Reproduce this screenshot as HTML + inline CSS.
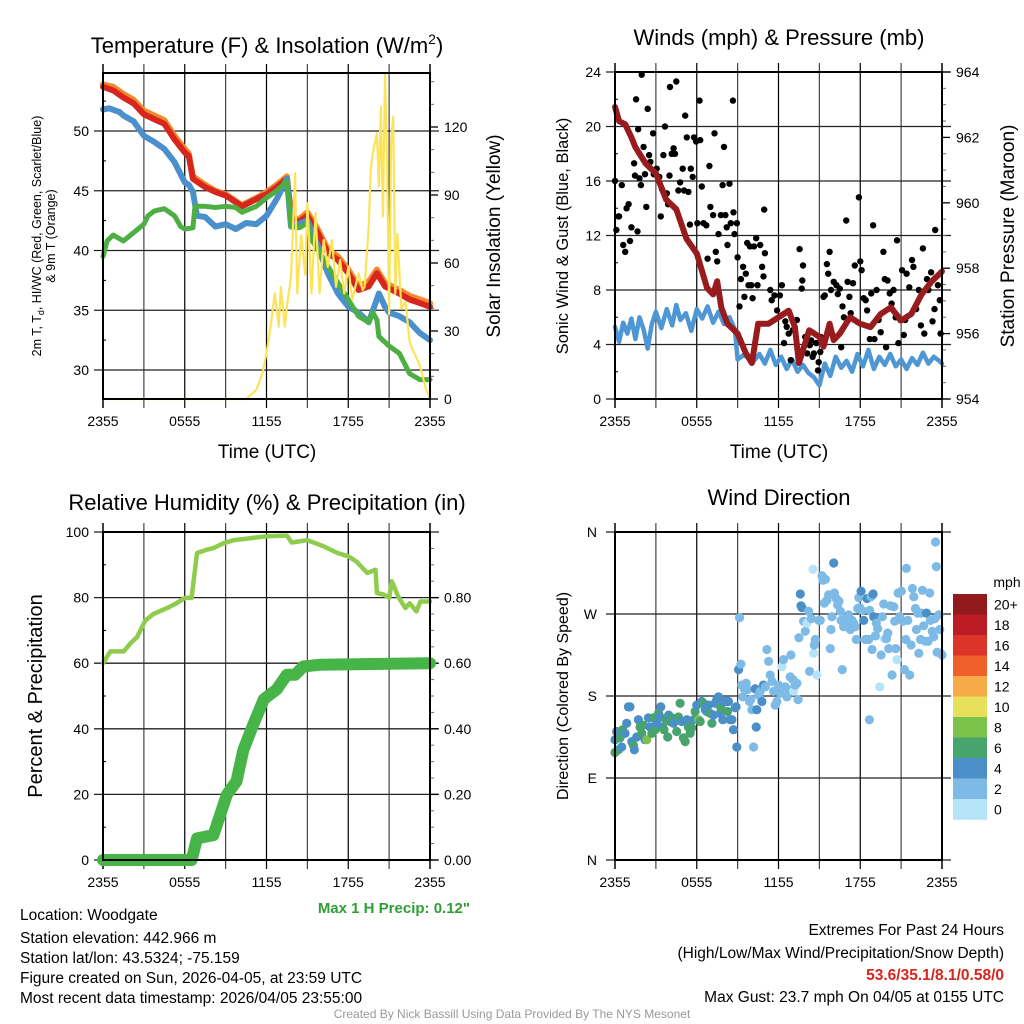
<!DOCTYPE html>
<html><head><meta charset="utf-8"><style>
html,body{margin:0;padding:0;background:#fff;}
svg{display:block;font-family:"Liberation Sans",Arial,sans-serif;}
</style></head><body>
<svg id="fig" width="1024" height="1024" viewBox="0 0 1024 1024" xmlns="http://www.w3.org/2000/svg">
<rect width="1024" height="1024" fill="#fff"/>
<g id="grids"></g>
<g id="marks"></g>
<g id="axes"></g>
<g id="texts" fill="#000">
<text x="267" y="53" font-size="22" text-anchor="middle">Temperature (F) &amp; Insolation (W/m<tspan dy="-9" font-size="14">2</tspan><tspan dy="9">)</tspan></text>
<text x="779" y="45" font-size="22" text-anchor="middle">Winds (mph) &amp; Pressure (mb)</text>
<text x="267" y="510" font-size="22" text-anchor="middle">Relative Humidity (%) &amp; Precipitation (in)</text>
<text x="779" y="505" font-size="22" text-anchor="middle">Wind Direction</text>
<text x="267" y="458" font-size="19" text-anchor="middle">Time (UTC)</text>
<text x="779" y="458" font-size="19" text-anchor="middle">Time (UTC)</text>
<text transform="translate(41,236) rotate(-90)" font-size="12.5" text-anchor="middle">2m T, T<tspan dy="3" font-size="9">d</tspan><tspan dy="-3">, HI/WC (Red, Green, Scarlet/Blue)</tspan></text>
<text transform="translate(55,236) rotate(-90)" font-size="12.5" text-anchor="middle">&amp; 9m T (Orange)</text>
<text transform="translate(500,236) rotate(-90)" font-size="19" text-anchor="middle">Solar Insolation (Yellow)</text>
<text transform="translate(568,236) rotate(-90)" font-size="16.5" text-anchor="middle">Sonic Wind &amp; Gust (Blue, Black)</text>
<text transform="translate(1014,236) rotate(-90)" font-size="19" text-anchor="middle">Station Pressure (Maroon)</text>
<text transform="translate(42,696) rotate(-90)" font-size="20" text-anchor="middle">Percent &amp; Precipitation</text>
<text transform="translate(568,696) rotate(-90)" font-size="16" text-anchor="middle">Direction (Colored By Speed)</text>
<text x="470" y="913" font-size="15" font-weight="bold" fill="#2e9e35" text-anchor="end">Max 1 H Precip: 0.12"</text>
<text x="20" y="920" font-size="15.5">Location: Woodgate</text>
<text x="20" y="943" font-size="15.5">Station elevation: 442.966 m</text>
<text x="20" y="963" font-size="15.5">Station lat/lon: 43.5324; -75.159</text>
<text x="20" y="983" font-size="15.5">Figure created on Sun, 2026-04-05, at 23:59 UTC</text>
<text x="20" y="1003" font-size="15.5">Most recent data timestamp: 2026/04/05 23:55:00</text>
<text x="1004" y="935" font-size="15.5" text-anchor="end">Extremes For Past 24 Hours</text>
<text x="1004" y="958" font-size="15.5" text-anchor="end">(High/Low/Max Wind/Precipitation/Snow Depth)</text>
<text x="1004" y="980" font-size="15.5" font-weight="bold" fill="#d7261e" text-anchor="end">53.6/35.1/8.1/0.58/0</text>
<text x="1004" y="1002" font-size="15.5" text-anchor="end">Max Gust: 23.7 mph On 04/05 at 0155 UTC</text>
<text x="512" y="1018" font-size="12" fill="#999" text-anchor="middle">Created By Nick Bassill Using Data Provided By The NYS Mesonet</text>
<text x="1007" y="587" font-size="14" text-anchor="middle">mph</text>
</g>
</svg>
<script>
// ---------- DATA ----------
const xTickLabels = ["2355","0555","1155","1755","2355"];
// Temperature panel
const tempHours = [0,0.75,1.5,2.25,3,3.75,4.5,5.25,6,6.3,6.6,7.5,8.25,9,10.2,11.25,12,12.75,13.5,13.8,14.25,15,15.75,16.5,17.25,18,18.75,19.5,20.1,20.7,21.75,22.5,23.25,24];
const tempRed = [53.7,53.4,52.8,52.3,51.4,51.0,50.6,49.3,48.2,47.9,46.0,45.3,44.9,44.6,43.7,44.3,44.7,45.3,46.0,42.9,42.3,42.9,41.5,39.8,39.2,38.1,36.7,37.0,38.1,37.0,36.4,35.9,35.6,35.3];
const tempOrange = [53.9,53.7,53.1,52.6,51.7,51.3,50.9,49.6,48.5,48.1,46.2,45.5,45.0,44.7,43.8,44.4,44.9,45.5,46.2,43.1,42.5,43.2,41.8,40.1,39.5,38.4,37.0,37.4,38.4,37.3,36.7,36.2,35.9,35.6];
const hiHours = [0,0.45,1.2,1.5,2.25,3,3.75,4.5,5.25,6,6.3,6.6,6.9,7.5,8.25,9,9.75,10.5,11.25,12,12.75,13.5,13.65,13.8,15,15.75,16.5,17.25,18,18.75,19.5,20.25,20.7,21,21.75,22.5,23.25,24];
const hiVals = [51.8,51.9,51.6,51.3,50.8,49.6,49.1,48.5,47.4,45.7,45.5,44.9,42.9,42.8,42.0,42.2,41.8,42.3,42.2,42.9,44.3,46.0,44.0,42.0,42.5,40.4,38.1,36.4,35.3,34.8,34.0,36.4,35.3,34.8,34.5,34.0,33.1,32.5];
const dewHours = [0,0.3,0.75,1.5,2.25,3,3.3,3.75,4.5,5.25,5.7,6,6.6,6.75,7.5,8.25,9,9.75,10.2,11.25,12,12.75,13.5,13.8,14.4,15,15.3,15.75,16.5,17.25,18,18.75,19.5,19.8,20.1,20.25,21,21.75,22.5,23.25,24];
const dewVals = [39.5,40.8,41.3,40.8,41.5,42.2,42.9,43.3,43.5,42.9,42.0,41.8,41.9,43.7,43.7,43.6,43.7,43.6,43.2,43.7,44.4,45.0,45.8,42.0,41.9,42.3,40.9,40.1,38.7,37.3,35.9,34.5,34.0,34.8,34.2,32.8,32.0,31.4,29.7,29.2,29.2];
const solarHours = [0,10.5,11.25,11.7,12,12.3,12.6,12.9,13.05,13.35,13.5,13.8,14.1,14.25,14.55,14.85,15,15.3,15.6,15.9,16.2,16.5,16.8,17.1,17.4,17.7,18,18.3,18.75,19.05,19.2,19.5,19.65,19.8,20.1,20.25,20.4,20.55,20.7,20.85,21,21.15,21.3,21.45,21.6,21.9,22.2,22.5,22.8,23.25,23.7,24];
const solarVals = [0,0,4.0,11.3,20.2,31.9,46.6,31.9,49.5,31.9,40.7,53.9,99.6,46.6,72.3,54.8,86.4,46.6,82.0,46.6,70.1,58.3,70.1,49.5,61.3,46.6,58.3,43.7,55.4,48.1,49.5,76.0,101.0,108.5,117.3,93.8,129.0,80.5,143.7,105.4,37.4,114.3,124.6,46.6,72.9,39.9,42.8,25.2,20.8,14.9,4.6,0];
const tempTicks = [30,35,40,45,50];
const solarTicks = [0,30,60,90,120];
// Wind panel
const windHours = [0,0.3,0.6,0.9,1.2,1.5,1.8,2.1,2.4,2.7,3,3.4,3.8,4.2,4.5,4.8,5.2,5.6,6,6.4,6.8,7.2,7.6,8,8.4,8.8,9,9.4,9.8,10.2,10.6,11,11.4,11.8,12.2,12.6,13,13.4,13.8,14.2,14.6,15,15.4,15.8,16.2,16.6,17,17.4,17.8,18.2,18.6,19,19.4,19.8,20.2,20.6,21,21.4,21.8,22.2,22.6,23,23.4,23.8,24];
const windVals = [5.3,4.2,5.6,4.8,5.9,4.4,6.0,5.1,3.7,5.5,6.4,5.2,6.6,5.4,6.9,5.8,6.3,5.0,6.6,5.9,6.8,5.6,6.4,5.5,6.0,5.1,2.9,3.2,3.1,2.8,3.3,2.6,3.6,2.5,3.1,2.2,2.9,2.0,2.5,1.9,1.6,1.0,2.6,1.7,3.1,2.3,2.8,2.0,3.3,2.4,3.6,2.2,3.1,2.5,3.3,2.4,2.9,2.2,3.0,2.5,3.4,2.6,3.1,2.8,2.6];
const presHours = [0,0.3,0.75,1.2,1.5,2.25,3,3.75,4.5,5.25,6,6.75,7.2,7.5,7.8,8.25,9,9.6,10.05,10.5,11.25,12,12.75,13.2,13.5,14.25,15,15.3,15.75,16.05,16.5,17.25,18,18.75,19.5,20.25,21,21.75,22.5,23.25,24];
const presVals = [962.93,962.5,962.4,962.0,961.7,961.2,960.9,960.1,959.8,958.9,958.45,957.4,957.2,957.6,956.8,956.3,956.0,955.4,955.1,956.3,956.3,956.5,956.7,956.2,955.1,956.1,955.9,955.6,956.3,955.8,956.0,956.5,956.3,956.2,956.6,956.8,956.4,956.6,957.2,957.6,957.9];
const gustHours = [0,0.1,0.25,0.3,0.5,0.6,0.75,0.85,1.0,1.1,1.2,1.4,1.47,1.55,1.65,1.7,1.8,1.9,1.96,2.1,2.2,2.3,2.4,2.5,2.6,2.8,2.85,3.06,3.25,3.36,3.45,3.55,3.67,3.8,3.9,4.0,4.04,4.16,4.3,4.4,4.5,4.65,4.78,4.97,5.07,5.15,5.27,5.39,5.5,5.56,5.7,5.8,5.95,6.05,6.2,6.25,6.37,6.5,6.7,6.8,6.93,7.0,7.2,7.3,7.4,7.5,7.6,7.77,7.9,8.0,8.1,8.2,8.26,8.4,8.5,8.65,8.7,8.77,8.95,9.0,9.14,9.24,9.4,9.5,9.6,9.7,9.8,9.9,10.0,10.1,10.2,10.36,10.46,10.66,10.8,10.9,10.95,11.0,11.4,11.5,11.7,11.9,12.1,12.25,12.4,12.5,12.6,12.75,12.9,13.06,13.35,13.55,13.7,13.75,13.8,13.96,14.1,14.3,14.4,14.5,14.6,14.77,14.9,14.95,15.07,15.1,15.26,15.3,15.4,15.55,15.65,15.75,15.85,16.05,16.25,16.35,16.5,16.6,16.7,16.8,16.97,17.07,17.2,17.3,17.47,17.6,17.9,18.0,18.1,18.25,18.4,18.5,18.7,18.8,18.94,19.04,19.2,19.35,19.5,19.7,19.8,19.9,20.0,20.16,20.3,20.45,20.6,20.7,20.8,20.95,21.07,21.2,21.3,21.4,21.6,21.8,21.9,22.1,22.3,22.45,22.6,22.7,22.9,23.0,23.2,23.3,23.45,23.5,23.7,23.84,23.9];
const gustVals = [16.0,12.4,13.4,13.4,15.7,11.3,10.8,14.0,14.3,11.6,12.6,17.3,16.4,22.0,12.3,19.8,16.2,15.7,23.8,18.5,16.5,14.1,21.3,17.9,17.4,19.5,16.5,16.9,16.3,13.4,15.4,17.9,20.0,15.1,14.3,16.4,22.9,18.0,18.4,18.0,23.3,15.3,15.9,16.9,15.3,20.8,19.2,15.2,12.8,16.9,16.3,19.2,18.9,12.9,21.9,19.0,15.6,12.9,12.75,10.3,17.1,14.1,13.5,19.5,10.8,10.1,12.1,13.5,15.7,18.5,13.5,12.6,11.3,15.8,12.9,21.9,13.7,12.1,12.9,10.4,6.8,8.8,9.7,7.5,9.2,11.45,8.35,11.2,8.35,7.4,11.2,11.8,8.35,11.3,9.7,9.0,13.9,10.7,8.0,7.25,7.6,6.5,7.6,8.35,4.1,5.7,5.3,4.8,2.85,5.05,5.8,11.0,8.1,8.7,9.8,4.55,3.35,3.95,4.3,3.1,3.35,4.1,2.1,2.7,3.45,4.55,4.3,7.5,7.6,9.9,9.2,10.8,8.0,8.6,8.35,7.7,8.1,3.8,6.8,6.0,13.1,8.6,7.5,6.3,8.5,9.8,14.8,10.1,9.45,7.4,7.25,6.5,4.4,7.75,12.75,4.4,8.0,5.8,4.9,10.8,8.8,3.8,8.7,7.75,7.0,8.0,6.0,11.65,4.1,5.8,9.45,4.7,5.8,9.2,8.2,10.2,9.7,6.6,8.0,5.4,11.05,4.8,8.8,8.0,9.3,5.7,6.6,12.4,8.35,7.25,4.8];
const windTicks = [0,4,8,12,16,20,24];
const presTicks = [954,956,958,960,962,964];
// RH panel
const rhHours = [0,0.54,1.52,2.0,2.5,3.1,3.7,4.7,5.4,6.0,6.5,6.9,7.6,8.1,8.85,9.6,12.0,13.5,13.85,15.0,16.2,17.2,18.0,18.6,19.4,20.0,20.1,20.6,21.0,21.2,21.7,22.2,22.5,23.0,23.3,24];
const rhVals = [60,63.6,63.6,66,68,73,75,76.8,78.3,79.9,79.9,93.6,94.6,95.1,96.6,97.5,98.7,98.9,96.8,97.5,95.6,93.6,92.6,91,87.5,88.5,81.4,80.9,80,85,80,76.8,78.3,75.8,78.8,78.8];
const precipHours = [0,6.5,6.9,8.1,9.1,9.8,10.3,11.0,11.8,12.75,13.5,14.1,14.7,15.9,24];
const precipVals = [0,0,0.066,0.076,0.20,0.24,0.335,0.41,0.49,0.52,0.565,0.565,0.59,0.595,0.60];
const rhTicks = [0,20,40,60,80,100];
const precipTicks = ["0.00","0.20","0.40","0.60","0.80"];
// Direction panel
const dirHours = [0,0,0.12,0.25,0.37,0.49,0.56,0.74,0.86,0.98,1.1,1.23,1.35,1.42,1.59,1.72,1.84,1.96,2.08,2.2,2.33,2.45,2.57,2.7,2.82,2.94,3.06,3.19,3.31,3.36,3.5,3.6,3.75,3.87,3.94,4.04,4.17,4.29,4.41,4.53,4.66,4.78,4.9,5.02,5.15,5.27,5.39,5.51,5.64,5.76,5.88,6.0,6.13,6.25,6.37,6.49,6.62,6.74,6.86,6.98,7.11,7.23,7.35,7.47,7.6,7.72,7.77,7.91,8.01,8.16,8.26,8.33,8.45,8.58,8.7,8.82,8.94,8.89,9.07,9.14,9.24,9.31,9.38,9.48,9.63,9.73,9.87,9.97,10.05,10.17,10.29,10.36,10.41,10.54,10.66,10.78,10.9,11.03,11.15,11.27,11.39,11.52,11.64,11.76,11.88,12.0,12.13,12.25,12.37,12.5,12.62,12.74,12.86,12.91,13.06,13.11,13.23,13.35,13.43,13.5,13.6,13.65,13.72,13.84,13.97,14.09,14.21,14.28,14.41,14.53,14.58,14.63,14.7,14.82,14.95,15.07,15.19,15.26,15.36,15.44,15.56,15.68,15.8,15.85,15.93,16.05,16.1,16.24,16.34,16.44,16.54,16.59,16.68,16.78,16.9,17.03,17.15,17.27,17.4,17.52,17.64,17.71,17.81,17.89,17.96,18.06,18.13,18.25,18.38,18.5,18.62,18.69,18.79,18.87,18.94,18.99,19.11,19.18,19.28,19.43,19.53,19.62,19.72,19.77,19.92,20.02,20.09,20.21,20.34,20.46,20.53,20.6,20.7,20.78,20.9,21.02,21.14,21.24,21.34,21.39,21.49,21.63,21.73,21.83,21.93,22.05,22.12,22.22,22.3,22.42,22.47,22.56,22.66,22.79,22.86,22.98,23.1,23.15,23.28,23.4,23.47,23.52,23.59,23.64,23.77,23.84,23.89,24.0,18.67];
const dirDegs = [118,132,141,121,134,124,143,139,150,168,168,130,126,121,135,154,146,139,148,132,132,156,146,139,156,143,150,161,157,168,146,143,154,135,159,152,156,150,154,141,157,172,152,134,130,154,146,139,145,154,163,170,154,152,174,172,165,163,170,161,150,159,172,176,179,161,167,154,174,174,163,174,154,154,143,167,124,168,209,266,215,192,179,188,194,187,174,176,165,124,188,146,165,181,185,174,192,190,231,218,203,196,185,170,174,192,183,212,220,190,179,187,201,225,198,185,192,194,176,244,292,279,277,262,251,260,273,207,265,319,227,236,242,203,263,263,312,307,282,308,285,291,232,253,267,326,293,287,280,284,273,263,209,256,265,262,269,253,263,260,256,242,276,288,277,295,274,263,242,287,242,274,289,231,292,267,246,260,254,190,225,267,281,243,243,249,232,279,203,278,262,232,220,293,267,295,262,209,242,320,263,203,236,298,289,276,253,271,227,242,271,296,257,240,271,240,293,263,251,245,265,349,322,228,269,253,227,225,154];
const dirSpeeds = [7,5,5,7,7,5,7,5,5,5,5,5,7,5,5,5,7,7,7,5,9,5,5,7,7,7,5,7,5,5,5,7,7,7,5,7,7,5,5,7,7,7,5,7,7,5,7,7,7,5,7,5,9,7,5,7,5,5,5,7,7,5,5,5,5,5,7,5,5,5,7,5,5,5,5,5,5,5,5,3,3,3,3,3,3,3,3,3,3,3,5,5,5,3,3,5,5,3,3,3,3,3,3,3,3,3,3,1,3,3,3,3,3,3,3,1,3,3,3,3,5,5,5,3,3,1,3,3,3,1,1,3,3,1,3,3,3,3,3,3,3,3,3,3,3,5,3,3,3,3,3,3,3,3,3,3,3,3,3,3,3,3,3,3,3,5,3,5,3,5,3,3,3,3,5,5,3,3,3,1,3,3,3,1,3,3,3,3,3,3,3,3,1,3,3,3,3,3,3,3,3,3,3,3,3,3,3,3,3,3,3,3,3,3,5,3,3,3,3,3,3,3,3,3,3,3,3,3,3];
const dirTickLabels = ["N","E","S","W","N"];
const cbLabels = ["0","2","4","6","8","10","12","14","16","18","20+"];
const cbColors = ["#b5e3f8","#7dbbe6","#4a8fc7","#47a46c","#7bc24b","#e7e05b","#f6aa48","#ef602a","#dc3428","#bb1c26","#92191c"];

// ---------- HELPERS ----------
const NS="http://www.w3.org/2000/svg";
function mk(tag, parent, attrs){const e=document.createElementNS(NS,tag);for(const k in attrs)e.setAttribute(k,attrs[k]);parent.appendChild(e);return e;}
const G=document.getElementById('grids'), M=document.getElementById('marks'), A=document.getElementById('axes');
function lin(d0,d1,r0,r1){return v=>r0+(v-d0)*(r1-r0)/(d1-d0);}
function panel(x0,x1,y0,y1){return {x0,x1,y0,y1,sx:lin(0,24,x0,x1)};}
const P1=panel(103,430,73,399), P2=panel(615,942,72,399), P3=panel(103,430,532,860), P4=panel(615,942,532,860);
const y1L=lin(30,50,370,131), y1R=lin(0,120,399,127);
const y2L=lin(0,24,399,72), y2R=lin(954,964,399,72);
const y3L=lin(0,100,860,532), y3R=lin(0,1,860,532);
const y4=lin(0,360,860,532);

function frame(p, name, hTicks, hScale, leftMinor, rightMajor, rightMinor){
  const g=mk('g',G,{});
  
  
  for(let h=0;h<=24;h+=3){const x=p.sx(h);
    const l=mk('line',g,{x1:x,x2:x,y1:p.y0-9,y2:p.y1+9,stroke:(h%6===0?'#000':'#444'),'stroke-width':(h===0||h===24)?1.5:1.2});
    
    }
  hTicks.forEach(v=>{const y=hScale(v);
    const l=mk('line',g,{x1:p.x0-9,x2:p.x1+9,y1:y,y2:y,stroke:'#222','stroke-width':1.3});
    
    });
  leftMinor.forEach(v=>{const y=hScale(v);mk('line',g,{x1:p.x0,x2:p.x0+3,y1:y,y2:y,stroke:'#000','stroke-width':1});});
  rightMajor.forEach(y=>{mk('line',g,{x1:p.x1,x2:p.x1+8,y1:y,y2:y,stroke:'#000','stroke-width':1.3});});
  rightMinor.forEach(y=>{mk('line',g,{x1:p.x1,x2:p.x1+4,y1:y,y2:y,stroke:'#666','stroke-width':1});});
  const r=mk('rect',A,{x:p.x0,y:p.y0,width:p.x1-p.x0,height:p.y1-p.y0,fill:'none',stroke:'#000','stroke-width':2});
  
  
  xTickLabels.forEach((t,i)=>{const tx=mk('text',A,{x:p.sx(i*6),y:p.y1+27,'font-size':14,'text-anchor':'middle'});tx.textContent=t;
    
    });
}
function tickLabel(x,y,t,anchor){const tx=mk('text',A,{x:x,y:y+5,'font-size':14,'text-anchor':anchor});tx.textContent=t;
  
  }
function range(a,b,s){const r=[];for(let v=a;v<=b+1e-9;v+=s)r.push(+v.toFixed(4));return r;}
function path(xs,ys,p,ys2,color,w,name){
  let d='';xs.forEach((h,i)=>{d+=(i?'L':'M')+p.sx(h).toFixed(1)+','+ys2(ys[i]).toFixed(1);});
  const e=mk('path',M,{d:d,fill:'none',stroke:color,'stroke-width':w,'stroke-linejoin':'round','stroke-linecap':'round'});
  
  
  return e;}

// ---------- PANEL 1 ----------
frame(P1,'temp',tempTicks,y1L,range(27.5,52.5,5).filter(v=>v>28),solarTicks.map(y1R),range(10,140,10).filter(v=>v%30).map(y1R));
tempTicks.forEach(v=>tickLabel(P1.x0-14,y1L(v),String(v),'end'));
solarTicks.forEach(v=>tickLabel(P1.x1+14,y1R(v),String(v),'start'));
path(tempHours,tempOrange,P1,y1L,'#f08a2c',6,'temp-9m-line');
path(tempHours,tempRed,P1,y1L,'#d7261e',6,'temp-2m-line');
path(hiHours,hiVals,P1,y1L,'#4a90cc',6,'heat-index-windchill-line');
path(dewHours,dewVals,P1,y1L,'#4daf43',5,'dewpoint-line');
path(solarHours,solarVals,P1,y1R,'#fce45a',2.2,'solar-insolation-line');

// ---------- PANEL 2 ----------
frame(P2,'wind',windTicks,y2L,range(2,22,4),presTicks.map(y2R),range(954.5,963.5,0.5).filter(v=>Math.abs(v%2)>0.01).map(y2R));
windTicks.forEach(v=>tickLabel(P2.x0-14,y2L(v),String(v),'end'));
presTicks.forEach(v=>tickLabel(P2.x1+14,y2R(v),String(v),'start'));
path(windHours,windVals,P2,y2L,'#4f97d4',4.5,'sonic-wind-line');
gustHours.forEach((h,i)=>{const c=mk('circle',M,{cx:P2.sx(h).toFixed(1),cy:y2L(gustVals[i]).toFixed(1),r:3.2,fill:'#000'});
  
  });
path(presHours,presVals,P2,y2R,'#981b1e',6,'pressure-line');

// ---------- PANEL 3 ----------
frame(P3,'rh',rhTicks,y3L,range(10,90,20),[0,0.2,0.4,0.6,0.8].map(y3R),range(0.05,0.95,0.05).filter(v=>Math.abs((v*100)%20)>0.5).map(y3R));
rhTicks.forEach(v=>tickLabel(P3.x0-14,y3L(v),String(v),'end'));
precipTicks.forEach(t=>tickLabel(P3.x1+14,y3R(parseFloat(t)),t,'start'));
path(rhHours,rhVals,P3,y3L,'#8fcb4c',4.5,'relative-humidity-line');
path(precipHours,precipVals,P3,y3R,'#47b448',12,'precipitation-line');

// ---------- PANEL 4 ----------
frame(P4,'direction',[0,90,180,270,360],y4,[],[],[]);
dirTickLabels.forEach((t,i)=>tickLabel(P4.x0-18,y4(i*90),t,'end'));
function speedColor(s){let i=Math.floor(s/2);if(i>10)i=10;return cbColors[i];}
dirHours.forEach((h,i)=>{const c=mk('circle',M,{cx:P4.sx(h).toFixed(1),cy:y4(dirDegs[i]).toFixed(1),r:4.6,fill:speedColor(dirSpeeds[i])});
  
  });
// colorbar
const cbTop=594, cbH=20.5;
cbColors.slice().reverse().forEach((col,i)=>{const r=mk('rect',A,{x:953,y:cbTop+i*cbH,width:34,height:cbH+0.3,fill:col});
  
  });
cbLabels.slice().reverse().forEach((t,i)=>{const tx=mk('text',A,{x:994,y:cbTop+i*cbH+cbH/2+5,'font-size':14});tx.textContent=t;
  
  });
</script>
</body></html>
